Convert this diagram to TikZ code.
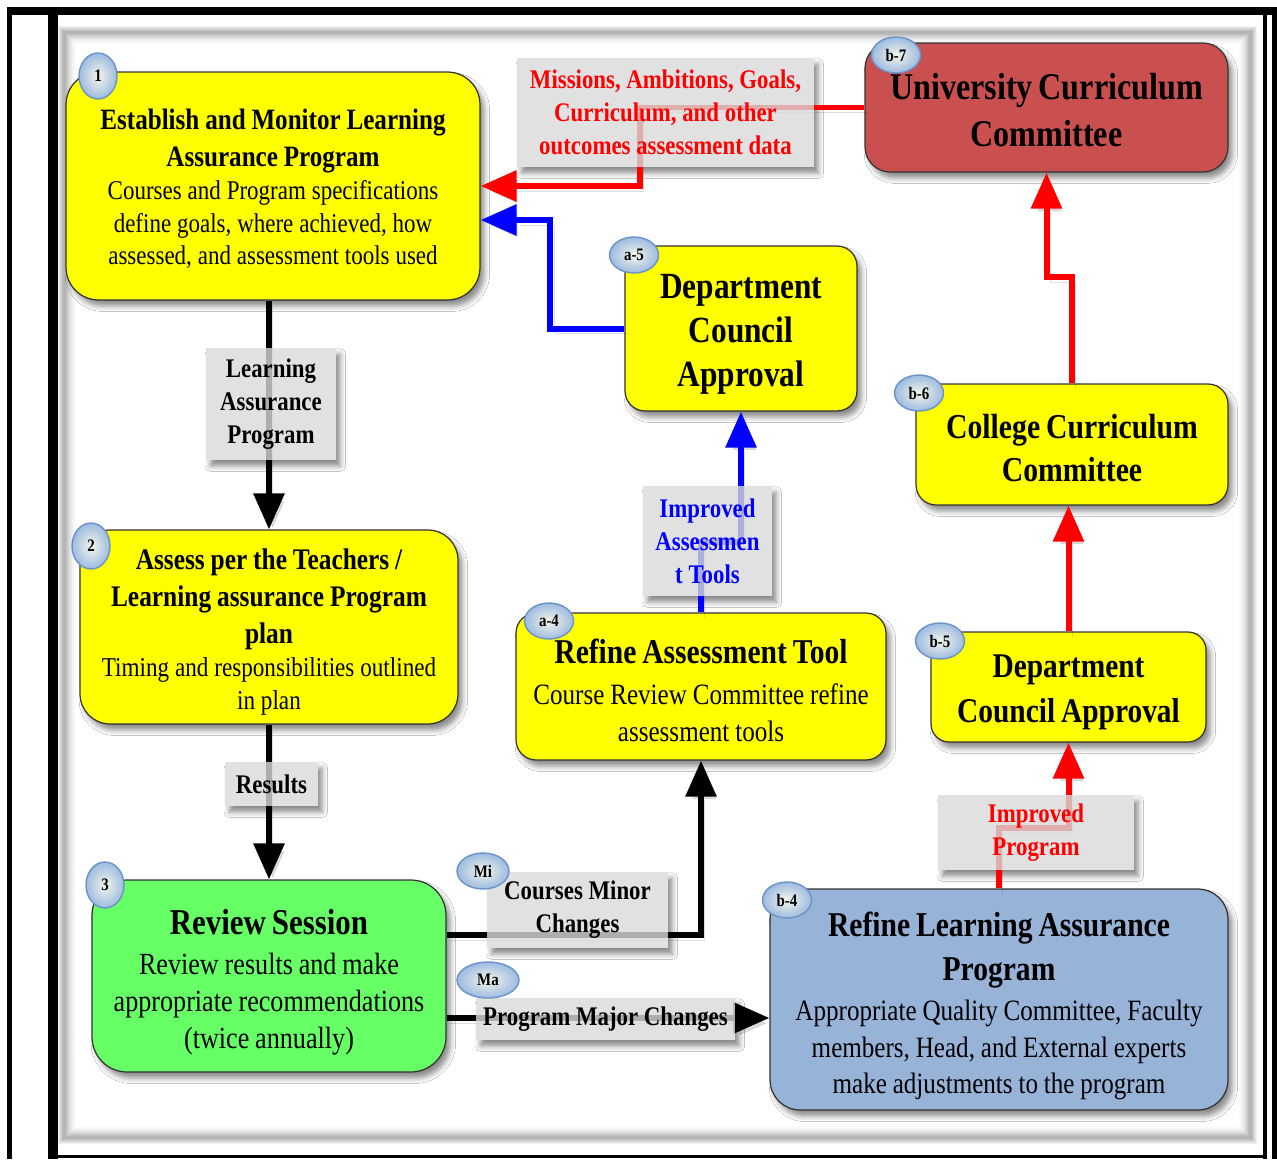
\documentclass[tikz,border=0pt]{standalone}
\usepackage{fontspec}
\setmainfont{Liberation Serif}[FakeStretch=0.85]
\usetikzlibrary{arrows.meta,shapes.geometric,shadows.blur}
\definecolor{boxyellow}{HTML}{FFFF00}
\definecolor{boxgreen}{HTML}{66FF66}
\definecolor{boxred}{HTML}{C9504F}
\definecolor{boxblue}{HTML}{97B3D8}
\definecolor{labelgray}{HTML}{DADADA}
\definecolor{badgerim}{HTML}{6A93C8}
\definecolor{badgeout}{HTML}{9DBBE0}
\definecolor{badgein}{HTML}{F4F5EA}
\begin{document}
\begin{tikzpicture}[x=0.02cm,y=-0.02cm,
  softshadow/.style={blur shadow={shadow xshift=2.5pt,shadow yshift=-3.5pt,shadow blur radius=3pt,shadow opacity=45}},
  box/.style={draw=black!80, line width=0.7pt, rounded corners=0.45cm, align=center, inner sep=0pt, softshadow},
  labback/.style={fill=white, inner sep=0pt, softshadow},
  lab/.style={fill=labelgray, fill opacity=0.8, text opacity=1, inner sep=0pt, align=center,
              font=\bfseries\fontsize{15.3}{18.7}\selectfont},
  conn/.style={line width=0.12cm, -{Triangle[length=0.72cm,width=0.6cm]},
               preaction={draw=black, opacity=0.13, transform canvas={shift={(2pt,-3pt)}}}},
  badge/.style={ellipse, draw=badgerim, line width=0.8pt, inner color=badgein, outer color=badgeout,
                inner sep=0pt, font=\bfseries\fontsize{10}{11}\selectfont},
  numbadge/.style={badge, minimum width=0.76cm, minimum height=0.92cm},
  tagbadge/.style={badge, minimum width=0.98cm, minimum height=0.72cm}]

\useasboundingbox (0,0) rectangle (1277,1159);
\fill[white] (0,0) rectangle (1277,1159);

% page frame
\fill[black] (7,7) rectangle (1277,15);
\fill[black] (7,7) rectangle (12,1159);
\fill[black] (48,15) rectangle (58,1159);
\fill[black] (1263,15) rectangle (1267,1159);
\fill[black] (1272,15) rectangle (1277,1159);
\fill[black] (58,1155) rectangle (1263,1158);
% soft grey inner border
\foreach \d/\c in {-5/6,-4/10,-3/15,-2/20,-1/25,0/29,1/30,2/28,3/25,4/21,5/17,6/14,7/11,8/8,9/6,10/4,11/2}
  \draw[black!\c, line width=0.024cm] ({64+\d},{32+\d}) rectangle ({1251-\d},{1138-\d});

% label backings (shadows)
\node[labback, minimum width=2.6cm, minimum height=2.24cm] at (271,404) {};
\node[labback, minimum width=1.86cm, minimum height=0.88cm] at (271.5,784) {};
\node[labback, minimum width=3.62cm, minimum height=1.52cm] at (577.5,910) {};
\node[labback, minimum width=5.18cm, minimum height=0.84cm] at (605.5,1019) {};
\node[labback, minimum width=2.58cm, minimum height=2.2cm] at (707.5,541) {};
\node[labback, minimum width=3.92cm, minimum height=1.5cm] at (1036,832.5) {};
\node[labback, minimum width=5.94cm, minimum height=2.18cm] at (665.5,112.5) {};

% process boxes (the trailing negative kern lowers each text block a little)
\node[box, fill=boxyellow, rounded corners=0.65cm, text width=8.28cm, minimum height=4.56cm] (est) at (273,186)
  {\fontsize{16.8}{21}\selectfont\bfseries Establish and Monitor Learning\\ Assurance Program\\
   \fontsize{15.4}{18.7}\selectfont\mdseries Courses and Program specifications\\ define goals, where achieved, how\\ assessed, and assessment tools used\par\kern-3.5pt};
\node[box, fill=boxyellow, rounded corners=0.6cm, text width=7.56cm, minimum height=3.88cm] (assess) at (269,627)
  {\fontsize{17}{21}\selectfont\bfseries Assess per the Teachers /\\ Learning assurance Program\\ plan\\
   \fontsize{15.5}{18.7}\selectfont\mdseries Timing and responsibilities outlined\\ in plan\par\kern-6pt};
\node[box, fill=boxgreen, rounded corners=0.7cm, text width=7.08cm, minimum height=3.84cm] (rev) at (269,976)
  {\fontsize{20.7}{24}\selectfont\bfseries Review Session\\[2pt]
   \fontsize{17.5}{21}\selectfont\mdseries Review results and make\\ appropriate recommendations\\ (twice annually)\par\kern-7pt};
\node[box, fill=boxyellow, rounded corners=0.4cm, text width=4.64cm, minimum height=3.3cm] (dca) at (741,328.5)
  {\fontsize{21}{25.2}\selectfont\bfseries Department\\ Council\\ Approval\par\kern-6.5pt};
\node[box, fill=boxyellow, rounded corners=0.4cm, text width=7.4cm, minimum height=2.94cm] (rat) at (701,686.5)
  {\fontsize{19.8}{23}\selectfont\bfseries Refine Assessment Tool\\[2pt]
   \fontsize{16.8}{21}\selectfont\mdseries Course Review Committee refine\\ assessment tools\par\kern-4.5pt};
\node[box, fill=boxred, rounded corners=0.5cm, text width=7.26cm, minimum height=2.58cm] (ucc) at (1046.5,107.5)
  {\fontsize{21.5}{26.6}\selectfont\bfseries University Curriculum\\ Committee\par\kern-3pt};
\node[box, fill=boxyellow, rounded corners=0.4cm, text width=6.24cm, minimum height=2.42cm] (ccc) at (1072,444.5)
  {\fontsize{19.9}{25}\selectfont\bfseries College Curriculum\\ Committee\par\kern-4pt};
\node[box, fill=boxyellow, rounded corners=0.36cm, text width=5.5cm, minimum height=2.2cm] (dcb) at (1068.5,687)
  {\fontsize{19.7}{25.5}\selectfont\bfseries Department\\ Council Approval\par\kern-6.5pt};
\node[box, fill=boxblue, rounded corners=0.6cm, text width=9.16cm, minimum height=4.42cm] (rla) at (999,999.5)
  {\fontsize{19.8}{25}\selectfont\bfseries Refine Learning Assurance\\ Program\\[1.7pt]
   \fontsize{16.8}{21}\selectfont\mdseries Appropriate Quality Committee, Faculty\\ members, Head, and External experts\\ make adjustments to the program\par\kern-7.5pt};

% connectors
\draw[conn, black] (assess.north |- est.south) -- (assess.north);
\draw[conn, black] (assess.south) -- (rev.north);
\draw[conn, black] ([yshift=0.82cm]rev.east) -| (rat.south);
\draw[conn, black] ([yshift=-0.84cm]rev.east) -- ([yshift=-0.84cm]rev.east -| rla.west);
\draw[conn, blue] (rat.north) -- ++(0,-70) -| (dca.south);
\draw[conn, red] (rla.north) -- ++(0,-60) -| (dcb.south);
\draw[conn, red] (dcb.north) -- (dcb.north |- ccc.south);
\draw[conn, red] (ccc.north) -- ++(0,-106) -| (ucc.south);
\coordinate (mjog) at (640,186);
\draw[conn, red] (ucc.west) -| (mjog) -- (est.east);
\draw[conn, blue] (dca.west) -- ++(-74,0) |- ([yshift=-0.68cm]est.east);

% connector labels
\node[lab, minimum width=2.6cm, minimum height=2.24cm] (lap) at (271,404) {Learning\\Assurance\\Program};
\node[lab, minimum width=1.86cm, minimum height=0.88cm] (res) at (271.5,784) {Results};
\node[lab, minimum width=3.62cm, minimum height=1.52cm] (cmc) at (577.5,910) {Courses Minor\\Changes};
\node[lab, minimum width=5.18cm, minimum height=0.84cm] (pmc) at (605.5,1019) {Program Major Changes};
\node[lab, text=blue, minimum width=2.58cm, minimum height=2.2cm] (iat) at (707.5,541) {Improved\\Assessmen\\t Tools};
\node[lab, text=red, minimum width=3.92cm, minimum height=1.5cm] (ipr) at (1036,832.5) {Improved\\Program};
\node[lab, text=red, minimum width=5.94cm, minimum height=2.18cm] (mis) at (665.5,112.5)
  {Missions, Ambitions, Goals,\\Curriculum, and other\\outcomes assessment data};

% step badges
\node[numbadge] (s1) at (98,76) {1};
\node[numbadge] (s2) at (91,546) {2};
\node[numbadge] (s3) at (105,885) {3};
\node[tagbadge] (sa5) at (634,255) {a-5};
\node[tagbadge] (sa4) at (549,621) {a-4};
\node[tagbadge] (sb7) at (896,55) {b-7};
\node[tagbadge] (sb6) at (919,393) {b-6};
\node[tagbadge] (sb5) at (940,641) {b-5};
\node[tagbadge] (sb4) at (787,900) {b-4};
\node[tagbadge, minimum width=1.04cm] (smi) at (483,871) {Mi};
\node[tagbadge, minimum width=1.24cm] (sma) at (488,980) {Ma};
\end{tikzpicture}
\end{document}
